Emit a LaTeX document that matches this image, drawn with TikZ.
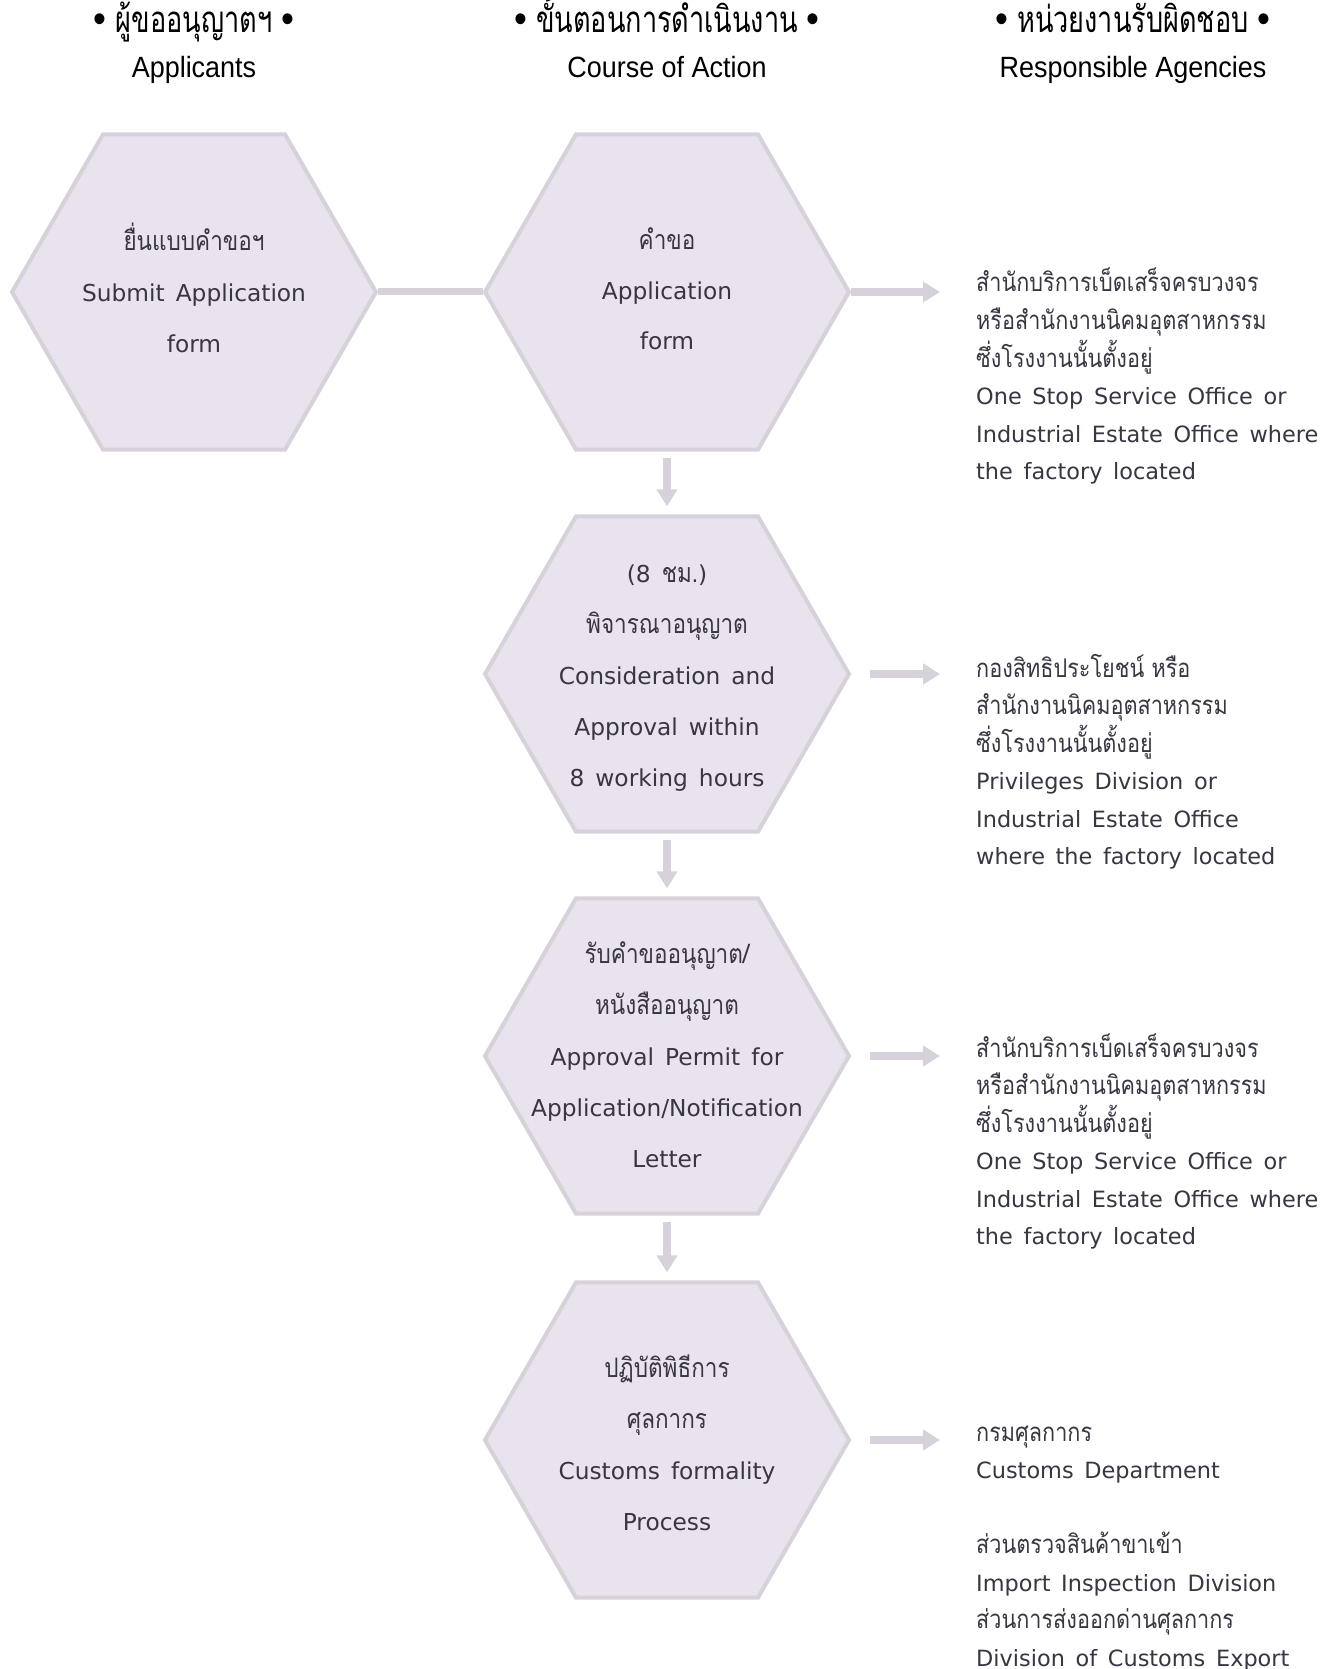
\documentclass[tikz,border=0pt]{standalone}
\usepackage{fontspec}
\usetikzlibrary{shapes.geometric,arrows.meta}
\setmainfont{DejaVu Sans}[WordSpace=1.5]
\newfontfamily\thf[Script=Thai,Scale=1.15,FakeStretch=0.84]{Loma}
\newfontfamily\hdf[FakeStretch=0.92]{Liberation Sans}
\newfontfamily\hdthf[Script=Thai,Scale=1.25,FakeStretch=0.74]{Loma}
\definecolor{hexfill}{HTML}{E8E3ED}
\definecolor{hexline}{HTML}{D6D1DB}
\definecolor{bodytxt}{HTML}{3A3542}
\newcommand\cln[1]{\hbox to 0pt{\hss#1\hss}}
\newcommand\lln[1]{\hbox{#1}}
\newcommand\stk[2]{\vtop{\baselineskip=#1\lineskiplimit=-1000pt\lineskip=0pt #2}}
\newcommand\hdot{{\fontsize{40}{45}\selectfont •}}
\begin{document}
\begin{tikzpicture}[x=1pt,y=-1pt,
  hexa/.style={regular polygon, regular polygon sides=6, minimum size=364pt,
    fill=hexfill, draw=hexline, line width=4pt, inner sep=0pt},
  hextext/.style={anchor=base, inner sep=0pt, text=bodytxt, font=\fontsize{23.3}{51}\selectfont},
  agency/.style={anchor=base west, inner sep=0pt, text=bodytxt, font=\fontsize{22.4}{37.5}\selectfont},
  header/.style={anchor=base, inner sep=0pt, text=black, font=\fontsize{29.3}{45}\hdf},
  link/.style={draw=hexline, line width=7pt},
  flow/.style={draw=hexline, line width=8pt, -{Triangle[length=17pt,width=20pt]}},
]
\path[use as bounding box, fill=white] (0,0) rectangle (1341,1669);

% headers
\node[header] (hd1) at (194,33) {\stk{45pt}{\cln{\hdot\hskip 9pt{\hdthf ผู้ขออนุญาตฯ}\hskip 9pt\hdot}\cln{Applicants}}};
\node[header] (hd2) at (667,33) {\stk{45pt}{\cln{\hdot\hskip 9pt{\hdthf ขั้นตอนการดำเนินงาน}\hskip 9pt\hdot}\cln{Course of Action}}};
\node[header] (hd3) at (1133,33) {\stk{45pt}{\cln{\hdot\hskip 9pt{\hdthf หน่วยงานรับผิดชอบ}\hskip 9pt\hdot}\cln{Responsible Agencies}}};

% hexagons
\node[hexa] (h1) at (194,292) {};
\node[hexa] (h2) at (667,292) {};
\node[hexa] (h3) at (667,674) {};
\node[hexa] (h4) at (667,1056) {};
\node[hexa] (h5) at (667,1440) {};

% hexagon texts
\node[hextext] (t1) at (194,251) {\stk{51pt}{\cln{\thf ยื่นแบบคำขอฯ}\cln{Submit Application}\cln{form}}};
\node[hextext] (t2) at (667,250) {\stk{50pt}{\cln{\thf คำขอ}\cln{Application}\cln{form}}};
\node[hextext] (t3) at (667,582) {\stk{51pt}{\cln{(8 {\thf ชม.})}\cln{\thf พิจารณาอนุญาต}\cln{Consideration and}\cln{Approval within}\cln{8 working hours}}};
\node[hextext] (t4) at (667,963) {\stk{51pt}{\cln{\thf รับคำขออนุญาต/}\cln{\thf หนังสืออนุญาต}\cln{Approval Permit for}\cln{Application/Notification}\cln{Letter}}};
\node[hextext] (t5) at (667,1377) {\stk{51pt}{\cln{\thf ปฏิบัติพิธีการ}\cln{\thf ศุลกากร}\cln{Customs formality}\cln{Process}}};

% agencies
\node[agency] (r1) at (976,292) {\stk{37.5pt}{\lln{\thf สำนักบริการเบ็ดเสร็จครบวงจร}\lln{\thf หรือสำนักงานนิคมอุตสาหกรรม}\lln{\thf ซึ่งโรงงานนั้นตั้งอยู่}\lln{One Stop Service Office or}\lln{Industrial Estate Office where}\lln{the factory located}}};
\node[agency] (r2) at (976,677) {\stk{37.5pt}{\lln{\thf กองสิทธิประโยชน์ หรือ}\lln{\thf สำนักงานนิคมอุตสาหกรรม}\lln{\thf ซึ่งโรงงานนั้นตั้งอยู่}\lln{Privileges Division or}\lln{Industrial Estate Office}\lln{where the factory located}}};
\node[agency] (r3) at (976,1057) {\stk{37.5pt}{\lln{\thf สำนักบริการเบ็ดเสร็จครบวงจร}\lln{\thf หรือสำนักงานนิคมอุตสาหกรรม}\lln{\thf ซึ่งโรงงานนั้นตั้งอยู่}\lln{One Stop Service Office or}\lln{Industrial Estate Office where}\lln{the factory located}}};
\node[agency] (r4) at (976,1441) {\stk{37.5pt}{\lln{\thf กรมศุลกากร}\lln{Customs Department}\lln{}\lln{\thf ส่วนตรวจสินค้าขาเข้า}\lln{Import Inspection Division}\lln{\thf ส่วนการส่งออกด่านศุลกากร}\lln{Division of Customs Export}}};

% arrow end points
\coordinate (e2) at (940,292);
\coordinate (e3) at (940,674);
\coordinate (e4) at (940,1056);
\coordinate (e5) at (940,1440);

% connectors
\draw[link] (h1.east) -- (h2.west);
\draw[flow] (h2.east) -- (e2);
\draw[flow, shorten <=19pt] (h3.east) -- (e3);
\draw[flow, shorten <=19pt] (h4.east) -- (e4);
\draw[flow, shorten <=19pt] (h5.east) -- (e5);
\draw[flow, shorten <=6pt, shorten >=8pt] (h2.south) -- (h3.north);
\draw[flow, shorten <=6pt, shorten >=8pt] (h3.south) -- (h4.north);
\draw[flow, shorten <=6pt, shorten >=8pt] (h4.south) -- (h5.north);
\end{tikzpicture}
\end{document}
